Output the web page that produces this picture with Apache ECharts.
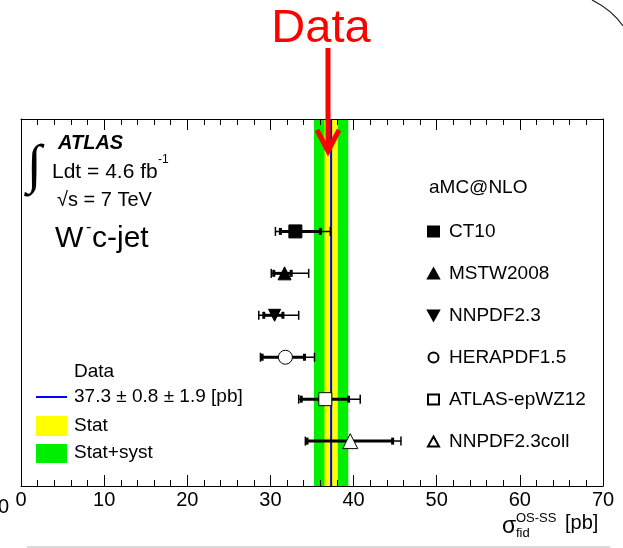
<!DOCTYPE html>
<html>
<head>
<meta charset="utf-8">
<script src="https://cdn.jsdelivr.net/npm/echarts@6/dist/echarts.min.js"></script>
<style>
  html, body { margin: 0; padding: 0; background: #fff; }
  #chart { width: 623px; height: 548px; }
</style>
</head>
<body>
<div id="chart"></div>
<script>
// aMC@NLO predictions for the W- c-jet fiducial cross section [pb]
const models   = ['CT10', 'MSTW2008', 'NNPDF2.3', 'HERAPDF1.5', 'ATLAS-epWZ12', 'NNPDF2.3coll'];
const central  = [33.0, 31.7, 30.5, 31.8, 36.6, 39.6];
const innerLo  = [31.2, 30.4, 29.2, 29.0, 33.7, 34.4];
const innerHi  = [36.0, 32.5, 31.5, 34.1, 39.4, 44.7];
const outerLo  = [30.6, 30.1, 28.6, 28.8, 33.4, 34.2];
const outerHi  = [37.2, 34.6, 33.4, 35.3, 40.8, 45.7];

// Measurement: value, statistical and systematic uncertainty [pb]
const dataValue = 37.3;
const statErr   = 0.8;
const systErr   = 1.9;

const xTicks = [0, 10, 20, 30, 40, 50, 60, 70];

const FONT = 'Liberation Sans, Arial, Helvetica, sans-serif';
const totalErr = Math.sqrt(statErr * statErr + systErr * systErr);

// row index counted from the bottom of the frame
const rowOf = i => models.length - i;

const symbolDefs = [
  { symbol: 'rect', size: 13, fill: '#000' },
  { symbol: 'triangle', size: 13, fill: '#000' },
  { symbol: 'path://M0,0 L10,0 L5,9 Z', size: 12, fill: '#000' },
  { symbol: 'circle', size: 14, fill: '#fff' },
  { symbol: 'rect', size: 13, fill: '#fff' },
  { symbol: 'triangle', size: 15, fill: '#fff' }
];

const chart = echarts.init(document.getElementById('chart'), null, { renderer: 'canvas' });

const axisCommon = {
  type: 'value', min: xTicks[0], max: xTicks[xTicks.length - 1], interval: 10, z: 10,
  axisLine: { show: true, onZero: false, lineStyle: { color: '#000', width: 1 } },
  axisTick: { show: true, inside: true, length: 11, lineStyle: { color: '#000', width: 1 } },
  minorTick: { show: true, splitNumber: 5, length: 6, lineStyle: { color: '#000', width: 1 } },
  splitLine: { show: false },
  minorSplitLine: { show: false }
};

const yCommon = {
  type: 'value', min: -0.07, max: 8.68, z: 10,
  axisLine: { show: true, onZero: false, lineStyle: { color: '#000', width: 1 } },
  axisTick: { show: false }, axisLabel: { show: false }, splitLine: { show: false }
};

// uncertainty bands of the measurement
const bands = [
  [dataValue - totalErr, dataValue + totalErr, '#00ee00'],
  [dataValue - statErr, dataValue + statErr, '#ffff00']
];

const series = [
  {
    type: 'custom', name: 'bands', silent: true, z: 1,
    data: bands.map(b => [b[0], b[1]]),
    renderItem(params, api) {
      const cs = params.coordSys;
      const x0 = api.coord([api.value(0), 0])[0];
      const x1 = api.coord([api.value(1), 0])[0];
      return { type: 'rect', shape: { x: x0, y: cs.y, width: x1 - x0, height: cs.height },
               style: { fill: bands[params.dataIndex][2] } };
    }
  },
  {
    type: 'custom', name: 'dataLine', silent: true, z: 2,
    data: [[dataValue]],
    renderItem(params, api) {
      const cs = params.coordSys;
      const x = api.coord([api.value(0), 0])[0];
      return { type: 'line', shape: { x1: x, y1: cs.y, x2: x, y2: cs.y + cs.height },
               style: { stroke: '#0000ff', lineWidth: 2 } };
    }
  },
  {
    type: 'custom', name: 'errors', silent: true, z: 3,
    data: models.map((m, i) => [outerLo[i], outerHi[i], innerLo[i], innerHi[i], rowOf(i)]),
    renderItem(params, api) {
      const row = api.value(4);
      const px = v => api.coord([v, row])[0];
      const y = api.coord([0, row])[1];
      const oL = px(api.value(0)), oH = px(api.value(1));
      const iL = px(api.value(2)), iH = px(api.value(3));
      const thin = { stroke: '#000', lineWidth: 1.5 };
      const thick = { stroke: '#000', lineWidth: 3 };
      return {
        type: 'group',
        children: [
          { type: 'line', shape: { x1: oL, y1: y, x2: oH, y2: y }, style: thin },
          { type: 'line', shape: { x1: iL, y1: y, x2: iH, y2: y }, style: thick },
          { type: 'line', shape: { x1: oL, y1: y - 4.5, x2: oL, y2: y + 4.5 }, style: thin },
          { type: 'line', shape: { x1: oH, y1: y - 4.5, x2: oH, y2: y + 4.5 }, style: thin },
          { type: 'rect', shape: { x: iL - 1.5, y: y - 3.5, width: 3, height: 7 }, style: { fill: '#000' } },
          { type: 'rect', shape: { x: iH - 1.5, y: y - 3.5, width: 3, height: 7 }, style: { fill: '#000' } }
        ]
      };
    }
  }
];

models.forEach((m, i) => {
  const d = symbolDefs[i];
  series.push({
    type: 'scatter', name: m, z: 5,
    symbol: d.symbol, symbolSize: d.size,
    itemStyle: { color: d.fill, borderColor: '#000', borderWidth: 1, opacity: 1 },
    emphasis: { disabled: true },
    data: [[central[i], rowOf(i)]]
  });
});

const txt = (x, y, text, size, extra) => ({
  type: 'text', x, y, silent: true, z: 20,
  style: Object.assign({ text, fontSize: size, fontFamily: FONT, fill: '#000',
                         textAlign: 'left', textVerticalAlign: 'middle' }, extra || {})
});

const graphic = [
  // experiment label block
  txt(27, 168, '\u222B', 54, { fontFamily: 'Liberation Serif' }),
  txt(58, 143, 'ATLAS', 20, { fontWeight: 'bold', fontStyle: 'italic' }),
  txt(52, 172, 'Ldt = 4.6 fb', 21),
  txt(158, 160, '-1', 12),
  txt(57, 200, '\u221As = 7 TeV', 20),
  txt(55, 239, 'W', 30),
  txt(86, 228, '-', 16),
  txt(92, 239, 'c-jet', 30),

  // prediction legend header
  txt(429, 188, 'aMC@NLO', 19),

  // measurement legend
  txt(74, 372, 'Data', 19),
  { type: 'line', silent: true, z: 20, shape: { x1: 36, y1: 397, x2: 67, y2: 397 },
    style: { stroke: '#0000ff', lineWidth: 2 } },
  txt(74, 397, dataValue + ' \u00B1 ' + statErr + ' \u00B1 ' + systErr + ' [pb]', 19),
  { type: 'rect', silent: true, z: 20, shape: { x: 36, y: 416, width: 31, height: 20 }, style: { fill: '#ffff00' } },
  txt(74, 426, 'Stat', 19),
  { type: 'rect', silent: true, z: 20, shape: { x: 36, y: 444, width: 31, height: 19 }, style: { fill: '#00ee00' } },
  txt(74, 453, 'Stat+syst', 19),

  // axis title
  txt(502, 527, '\u03C3', 23),
  txt(516, 533, 'fid', 13),
  txt(516, 518, 'OS-SS', 13),
  txt(565, 523, '[pb]', 20),

  // stray tick label at the left edge
  txt(9, 507, '0', 20, { textAlign: 'right' }),

  // pointer to the measurement
  txt(321, 29, 'Data', 47, { fill: '#ff0000', textAlign: 'center' }),
  { type: 'line', silent: true, z: 30, shape: { x1: 328, y1: 48, x2: 328, y2: 148 },
    style: { stroke: '#ff0000', lineWidth: 5 } },
  { type: 'polyline', silent: true, z: 30, shape: { points: [[317, 130], [328, 151], [339, 130]] },
    style: { stroke: '#ff0000', lineWidth: 5, fill: null, lineJoin: 'miter' } },

  // page decorations
  { type: 'line', silent: true, z: 20, shape: { x1: 27, y1: 547, x2: 610, y2: 547 },
    style: { stroke: '#cccccc', lineWidth: 1.5 } },
  { type: 'bezierCurve', silent: true, z: 20,
    shape: { x1: 592, y1: 0, cpx1: 612, cpy1: 10, x2: 623, y2: 26 },
    style: { stroke: '#222', lineWidth: 1.2, fill: null } }
];

chart.setOption({
  animation: false,
  backgroundColor: '#fff',
  grid: { left: 21, right: 20, top: 119, bottom: 62, containLabel: false },
  xAxis: [
    Object.assign({}, axisCommon, { position: 'bottom',
      axisLabel: { show: true, fontSize: 20, color: '#000', margin: 4, fontFamily: FONT } }),
    Object.assign({}, axisCommon, { position: 'top', axisLabel: { show: false } })
  ],
  yAxis: [
    Object.assign({}, yCommon, { position: 'left' }),
    Object.assign({}, yCommon, { position: 'right' })
  ],
  legend: {
    data: models, orient: 'vertical', left: 422, top: 216.5,
    itemWidth: 11, itemHeight: 10, itemGap: 22, selectedMode: false,
    textStyle: { fontSize: 19, color: '#000', lineHeight: 20, fontFamily: FONT, padding: [0, 0, 0, 5] }
  },
  series,
  graphic
});
</script>
</body>
</html>
